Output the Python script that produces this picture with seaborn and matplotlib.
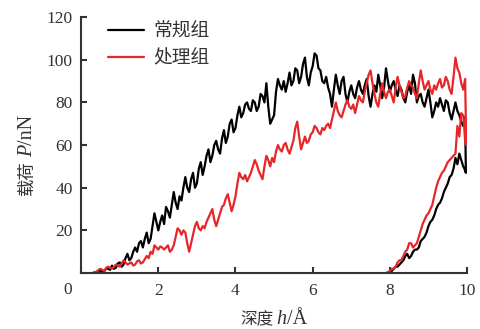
import matplotlib
matplotlib.use("Agg")
import matplotlib.pyplot as plt
import seaborn as sns
import pandas as pd

sns.set_theme(style="ticks")
plt.rcParams['font.family'] = ['Liberation Serif', 'Noto Sans CJK SC', 'DejaVu Sans']

series_names = ["常规组", "处理组"]
colors = ["#000000", "#e8262a"]

# shared loading depth grid (Å)
h_load = [0.30, 0.35, 0.40, 0.45, 0.50, 0.55, 0.60, 0.65, 0.70, 0.75, 0.80, 0.85, 0.90, 0.95,
          1.00, 1.05, 1.10, 1.15, 1.20, 1.25, 1.30, 1.35, 1.40, 1.45, 1.50, 1.55, 1.60, 1.65, 1.70, 1.75, 1.80, 1.85, 1.90, 1.95,
          2.00, 2.05, 2.10, 2.15, 2.20, 2.25, 2.30, 2.35, 2.40, 2.45, 2.50, 2.55, 2.60, 2.65, 2.70, 2.75, 2.80, 2.85, 2.90, 2.95,
          3.00, 3.05, 3.10, 3.15, 3.20, 3.25, 3.30, 3.35, 3.40, 3.45, 3.50, 3.55, 3.60, 3.65, 3.70, 3.75, 3.80, 3.85, 3.90, 3.95,
          4.00, 4.05, 4.10, 4.15, 4.20, 4.25, 4.30, 4.35, 4.40, 4.45, 4.50, 4.55, 4.60, 4.65, 4.70, 4.75, 4.80, 4.85, 4.90, 4.95,
          5.00, 5.05, 5.10, 5.15, 5.20, 5.25, 5.30, 5.35, 5.40, 5.45, 5.50, 5.55, 5.60, 5.65, 5.70, 5.75, 5.80, 5.85, 5.90, 5.95,
          6.00, 6.05, 6.10, 6.15, 6.20, 6.25, 6.30, 6.35, 6.40, 6.45, 6.50, 6.55, 6.60, 6.65, 6.70, 6.75, 6.80, 6.85, 6.90, 6.95,
          7.00, 7.05, 7.10, 7.15, 7.20, 7.25, 7.30, 7.35, 7.40, 7.45, 7.50, 7.55, 7.60, 7.65, 7.70, 7.75, 7.80, 7.85, 7.90, 7.95,
          8.00, 8.05, 8.10, 8.15, 8.20, 8.25, 8.30, 8.35, 8.40, 8.45, 8.50, 8.55, 8.60, 8.65, 8.70, 8.75, 8.80, 8.85, 8.90, 8.95,
          9.00, 9.05, 9.10, 9.15, 9.20, 9.25, 9.30, 9.35, 9.40, 9.45, 9.50, 9.55, 9.60, 9.65, 9.70, 9.75, 9.80, 9.85, 9.90, 9.95]

# 常规组 (black) loading
p_black_load = [0, 0.3, 0.5, 1.2, 1, 0.5, 0.8, 2.2, 2, 1.5, 3.5, 2, 2.5, 4.5,
                5, 3, 4, 7, 9, 6, 7, 10, 12, 10, 14, 15, 12, 16, 19, 14, 16, 22, 28, 24,
                20, 24, 27, 23, 31, 29, 26, 32, 38, 33, 30, 36, 34, 40, 45, 40, 38, 44, 47, 40,
                42, 49, 52, 46, 50, 55, 58, 52, 55, 60, 62, 58, 56, 63, 67, 61, 64, 70, 72, 66,
                68, 74, 78, 73, 75, 79, 80, 77, 76, 81, 80, 76, 78, 84, 83, 80, 89, 78, 70, 72,
                74, 85, 91, 88, 86, 90, 85, 89, 94, 88, 90, 96, 95, 89, 92, 98, 101, 92, 88, 94,
                97, 103, 102, 96, 95, 90, 89, 92, 87, 84, 78, 86, 93, 88, 84, 90, 92, 84, 80, 85,
                88, 84, 82, 87, 90, 86, 84, 88, 91, 83, 78, 84, 88, 85, 93, 88, 82, 87, 96, 90,
                85, 88, 90, 86, 83, 88, 86, 82, 80, 85, 88, 84, 93, 89, 80, 83, 84, 80, 78, 82,
                86, 80, 73, 76, 80, 78, 82, 79, 76, 81, 80, 75, 72, 76, 80, 76, 74, 71, 69, 73]
# 常规组 (black) unloading
h_black_unload = [9.97, 9.93, 9.90, 9.85, 9.80, 9.75, 9.70, 9.65, 9.60, 9.55, 9.50, 9.45, 9.40, 9.35,
                  9.30, 9.25, 9.20, 9.15, 9.10, 9.05, 9.00, 8.95, 8.90, 8.85, 8.80, 8.75, 8.70, 8.65,
                  8.60, 8.55, 8.50, 8.45, 8.40, 8.35, 8.30, 8.25, 8.20, 8.15, 8.10, 8.05, 8.00]
p_black_unload = [47, 49, 50, 53, 56, 51, 54, 49, 46, 45, 42, 40, 38, 35,
                  33, 32, 30, 27, 25, 24, 22, 19, 17, 16, 15, 12, 11, 11,
                  10, 8, 7, 9, 8, 6, 5, 4, 3, 3, 2, 1, 0]

# 处理组 (red) loading
p_red_load = [0, 0.5, 0.5, 1.5, 2, 1.5, 1, 2.5, 3, 2.5, 2, 3, 4, 3.5,
              3, 4.5, 6, 5, 4, 4.5, 5, 3.5, 4, 5.5, 6, 4.5, 5, 6.5, 8, 7, 10, 9, 13, 12,
              11, 12.5, 12, 11, 12, 13, 10, 11, 13, 17, 21, 20, 18, 20, 19, 14, 10, 14, 18, 22,
              24, 21, 20, 22, 21, 24, 26, 28, 30, 25, 22, 25, 28, 31, 32, 35, 37, 33, 29, 32,
              36, 42, 47, 45, 44, 46, 43, 45, 47, 50, 53, 51, 48, 46, 44, 50, 55, 53, 50, 54,
              52, 57, 60, 58, 57, 60, 61, 58, 56, 59, 62, 68, 71, 64, 58, 61, 64, 61, 62, 65,
              66, 69, 68, 66, 65, 68, 67, 69, 70, 68, 72, 76, 80, 76, 74, 73, 76, 79, 81, 78,
              77, 79, 75, 79, 83, 81, 80, 85, 89, 93, 95, 89, 84, 80, 78, 84, 89, 85, 82, 85,
              86, 83, 80, 87, 92, 88, 85, 82, 83, 87, 90, 88, 87, 84, 82, 89, 95, 90, 86, 88,
              90, 86, 84, 88, 86, 89, 91, 87, 88, 92, 90, 86, 84, 92, 101, 96, 94, 89, 86, 91]
# 处理组 (red) unloading
h_red_unload = [9.98, 9.95, 9.92, 9.90, 9.85, 9.80, 9.75, 9.70, 9.65, 9.60, 9.55, 9.50, 9.45, 9.40,
                9.35, 9.30, 9.25, 9.20, 9.15, 9.10, 9.05, 9.00, 8.95, 8.90, 8.85, 8.80, 8.75, 8.70,
                8.65, 8.60, 8.55, 8.50, 8.45, 8.40, 8.35, 8.30, 8.25, 8.20, 8.15, 8.10, 8.05, 8.00,
                7.95, 7.90, 7.75]
p_red_unload = [60, 62, 70, 74, 75, 64, 69, 56, 55, 54, 53, 52, 50, 48,
                47, 45, 43, 40, 36, 32, 30, 28, 27, 25, 23, 20, 17, 14,
                13, 12, 14, 14, 11, 10, 8, 6, 6, 5, 3, 2, 2, 1,
                0.5, 0, 0]

x_ticks = [0, 2, 4, 6, 8, 10]
x_ticklabels = ["", "2", "4", "6", "8", "10"]
y_ticks = [0, 20, 40, 60, 80, 100, 120]
y_ticklabels = ["", "20", "40", "60", "80", "100", "120"]

frames = []
for name, hl, pl, hu, pu in [(series_names[0], h_load, p_black_load, h_black_unload, p_black_unload),
                             (series_names[1], h_load, p_red_load, h_red_unload, p_red_unload)]:
    frames.append(pd.DataFrame({"h": list(hl) + list(hu), "P": list(pl) + list(pu), "组": name}))
df = pd.concat(frames, ignore_index=True)

fig = plt.figure(figsize=(4.8, 3.29), dpi=100)
ax = fig.add_axes([0.169, 0.170, 0.804, 0.778])

for name, col in zip(series_names, colors):
    sub = df[df["组"] == name]
    sns.lineplot(data=sub, x="h", y="P", sort=False, estimator=None, color=col,
                 linewidth=1.6, ax=ax, label=name)

ax.set_xlim(0, 10)
ax.set_ylim(0, 120)
ax.set_xticks(x_ticks)
ax.set_xticklabels(x_ticklabels)
ax.set_yticks(y_ticks)
ax.set_yticklabels(y_ticklabels)
ax.annotate("0", xy=(0, 0), xycoords="data", xytext=(-9.5, -12.5), textcoords="offset points",
            ha="center", va="center", fontsize=12.5, color="#333333")

for s in ["top", "right"]:
    ax.spines[s].set_visible(False)
for s in ["left", "bottom"]:
    ax.spines[s].set_linewidth(1.5)
    ax.spines[s].set_color("#333333")
ax.tick_params(direction="in", length=4, width=1.5, color="#333333",
               labelsize=12.5, labelcolor="#333333")
ax.tick_params(axis="y", pad=6)
ax.tick_params(axis="x", pad=7)
ax.set_xlabel("")
ax.set_ylabel("")

lab_col = "#333333"
cjk = ["Noto Sans CJK SC"]
serif = ["Liberation Serif"]
# x label: 深度 h/Å
xb = 0.014
t1 = fig.text(240 / 480, xb, "深度", family=cjk, fontsize=12, color=lab_col,
              ha="left", va="baseline")
t2 = ax.annotate("h", xy=(1.0, xb), xycoords=(t1, "figure fraction"), xytext=(2.5, 0),
                 textcoords="offset points", family=serif, style="italic", fontsize=14.5,
                 color=lab_col, ha="left", va="baseline")
t3 = ax.annotate("/Å", xy=(1.0, xb), xycoords=(t2, "figure fraction"),
                 family=serif, fontsize=14.5, color=lab_col, ha="left", va="baseline")
# y label: 载荷 P/nN (rotated)
yb = 0.066
u1 = fig.text(yb, (329 - 196) / 329, "载荷", family=cjk, fontsize=12.5, color=lab_col,
              rotation=90, rotation_mode="anchor", ha="left", va="baseline")
u2 = ax.annotate("P", xy=(yb, 1.0), xycoords=("figure fraction", u1), xytext=(0, 3),
                 textcoords="offset points", family=serif, style="italic", fontsize=14.5,
                 color=lab_col, rotation=90, rotation_mode="anchor", ha="left", va="baseline")
u3 = ax.annotate("/nN", xy=(yb, 1.0), xycoords=("figure fraction", u2),
                 family=serif, fontsize=14.5, color=lab_col, rotation=90,
                 rotation_mode="anchor", ha="left", va="baseline")

leg = ax.legend(loc="upper left", bbox_to_anchor=((108 - 81) / 386, 0.985), frameon=False,
                borderpad=0, borderaxespad=0,
                handlelength=1.9, handletextpad=0.5, labelspacing=0.3,
                prop={"family": cjk, "size": 13.5})
for t in leg.get_texts():
    t.set_color(lab_col)

fig.savefig("out.png", dpi=100)
